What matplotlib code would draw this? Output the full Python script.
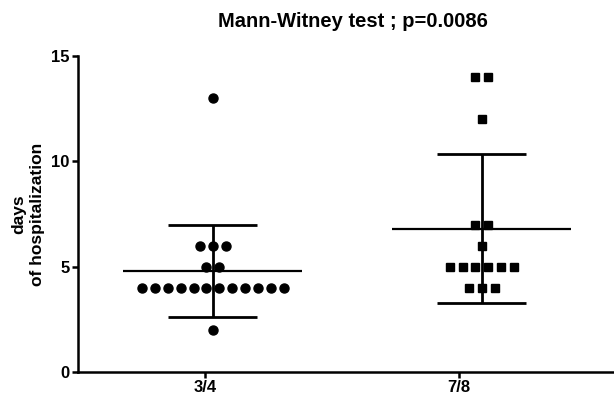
import numpy as np
import matplotlib
matplotlib.use("Agg")
import matplotlib.pyplot as plt

plt.rcParams['font.family'] = ['Liberation Sans', 'DejaVu Sans']
plt.rcParams['font.weight'] = 'bold'

# data
groups = ['3/4', '7/8']
days_34 = [13, 6, 6, 6, 5, 5, 4, 4, 4, 4, 4, 4, 4, 4, 4, 4, 4, 4, 2]
days_78 = [14, 14, 12, 7, 7, 6, 5, 5, 5, 5, 5, 5, 4, 4, 4]
title = 'Mann-Witney test ; p=0.0086'


def spread(values, center, step):
    # scatter equal values side by side, like a column scatter plot
    values = np.array(values, dtype=float)
    xs = np.zeros_like(values)
    for v in np.unique(values):
        idx = np.where(values == v)[0]
        n = len(idx)
        xs[idx] = center + (np.arange(n) - (n - 1) / 2) * step
    return xs


fig = plt.figure(figsize=(6.14, 3.97), dpi=100)
ax = fig.add_axes([78 / 614, 25 / 397, 536 / 614, 316 / 397])

centers = [1.031, 2.09]
markers = ['o', 's']
sizes = [6.5, 6.0]
step = 0.0508
for data, c, m, s in zip([days_34, days_78], centers, markers, sizes):
    xs = spread(data, c, step)
    ax.plot(xs, data, linestyle='none', marker=m, markersize=s, color='black', zorder=3)
    mean = np.mean(data)
    sd = np.std(data, ddof=1)
    ax.hlines(mean, c - 0.352, c + 0.352, color='black', lw=1.6, zorder=2)
    ax.vlines(c, mean - sd, mean + sd, color='black', lw=2.0, zorder=2)
    ax.hlines([mean - sd, mean + sd], c - 0.175, c + 0.175, color='black', lw=2.0, zorder=2)

ax.set_xlim(0.5, 2.61)
ax.set_ylim(0, 15)
ax.set_yticks([0, 5, 10, 15])
ax.set_xticks([1, 2])
ax.set_xticklabels(groups)
ax.spines['top'].set_visible(False)
ax.spines['right'].set_visible(False)
ax.spines['left'].set_linewidth(1.8)
ax.spines['bottom'].set_linewidth(1.8)
ax.tick_params(width=1.8, length=4, labelsize=12, pad=2)
fig.text(28 / 614, 1 - 214 / 397, 'days\nof hospitalization', rotation=90,
         ha='center', va='center', fontsize=12.5, fontweight='bold', linespacing=1.3)
fig.text(0.575, 0.947, title, ha='center', va='center', fontsize=14.5, fontweight='bold')

fig.savefig('out.png', dpi=100)
